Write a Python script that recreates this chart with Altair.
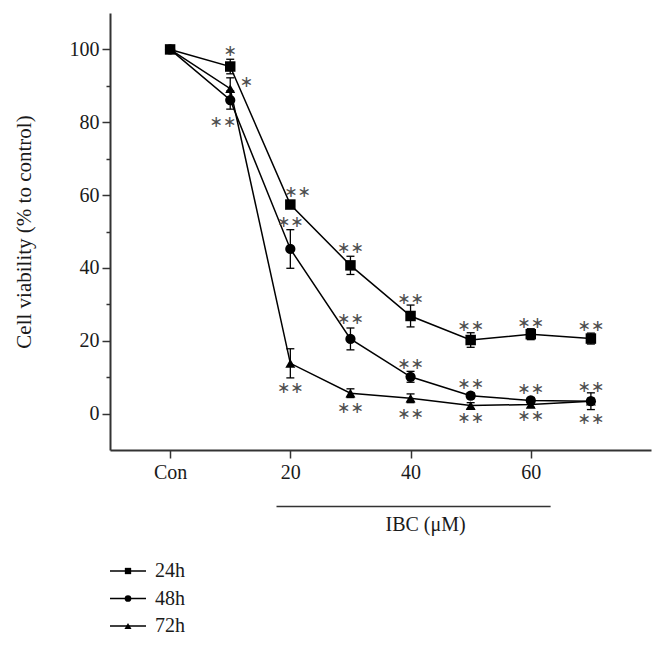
import altair as alt
import pandas as pd

# ---------------- data ----------------
conc = [0, 10, 20, 30, 40, 50, 60, 70]
series_names = ["24h", "48h", "72h"]
v24 = [100, 95.3, 57.4, 40.7, 26.8, 20.2, 21.8, 20.6]
e24 = [0.5, 2.0, 1.0, 2.5, 3.0, 2.0, 1.5, 1.5]
v48 = [100, 86.1, 45.2, 20.5, 10.1, 4.9, 3.6, 3.4]
e48 = [0.5, 2.5, 5.3, 3.0, 1.5, 0.8, 0.8, 0.8]
v72 = [100, 89.2, 13.8, 5.6, 4.2, 2.2, 2.5, 3.4]
e72 = [0.5, 3.0, 4.0, 1.2, 1.2, 0.8, 0.8, 2.3]

x_tick_values = [0, 20, 40, 60]
x_tick_labels = ["Con", "20", "40", "60"]
y_tick_values = [0, 10, 20, 30, 40, 50, 60, 70, 80, 90, 100]

# significance marks (placed in data units)
ann_x = [10, 12.7, 8.8,
         21.2, 20, 20,
         30, 30, 30,
         40, 40, 40,
         50, 50, 50,
         60, 60, 60,
         70, 70, 70]
ann_y = [99.5, 91, 80,
         60.9, 52.7, 7,
         45.5, 26, 1.6,
         31.6, 13.6, 0,
         24, 8.1, -1.2,
         25, 6.8, -0.8,
         24, 7.3, -1.4]
ann_text = ["∗", "∗", "∗∗"] + ["∗∗"] * 18

bracket_x = [17.7, 63.3]
bracket_y = [-25.5]
ibc_label = "IBC (μM)"
ibc_pos = [42.5, -30.5]

# ---------------- tables ----------------
rows = []
for name, vals, errs in zip(series_names, [v24, v48, v72], [e24, e48, e72]):
    for c, v, e in zip(conc, vals, errs):
        rows.append({"conc": c, "value": v, "lo": v - e, "hi": v + e, "series": name})
df = pd.DataFrame(rows)
ann_df = pd.DataFrame({"x": ann_x, "y": ann_y, "t": ann_text})

FONT = "Liberation Serif"
FS = 20
AX = "#333333"
TXT = "#1a1a1a"

label_expr = "{" + ",".join(f"'{v}':'{l}'" for v, l in zip(x_tick_values, x_tick_labels)) + "}[datum.value]"

x_axis = alt.Axis(values=x_tick_values, labelExpr=label_expr, title=None, grid=False,
                  tickSize=8, tickWidth=1.5, tickColor=AX, domainColor=AX, domainWidth=2,
                  labelFont=FONT, labelFontSize=FS, labelColor=TXT, labelPadding=4)
y_axis = alt.Axis(values=y_tick_values, title="Cell viability (% to control)", grid=False,
                  labelExpr="datum.value % 20 == 0 ? datum.label : ''",
                  tickSize={"condition": {"test": "datum.value % 20 == 0", "value": 8}, "value": 4},
                  tickWidth=1.5, tickColor=AX, domainColor=AX, domainWidth=2,
                  labelFont=FONT, labelFontSize=FS, labelColor=TXT, labelPadding=3,
                  titleFont=FONT, titleFontSize=21, titleFontWeight="normal", titleColor=TXT,
                  titlePadding=35)
x_scale = alt.Scale(domain=[-10, 80], nice=False, zero=False)
y_scale = alt.Scale(domain=[-10, 110], nice=False, zero=False)


def X(f):
    return alt.X(f"{f}:Q", scale=x_scale, axis=x_axis)


def Y(f):
    return alt.Y(f"{f}:Q", scale=y_scale, axis=y_axis)


base = alt.Chart(df)
lines = base.mark_line(color="black", strokeWidth=1.5).encode(x=X("conc"), y=Y("value"), detail="series:N")
err = base.mark_rule(color="black", strokeWidth=1.3).encode(x=X("conc"), y=Y("lo"), y2="hi:Q")
cap_lo = base.mark_tick(orient="horizontal", color="black", size=8, thickness=1.3, opacity=1).encode(x=X("conc"), y=Y("lo"))
cap_hi = base.mark_tick(orient="horizontal", color="black", size=8, thickness=1.3, opacity=1).encode(x=X("conc"), y=Y("hi"))
pts = base.mark_point(filled=True, color="black", opacity=1).encode(
    x=X("conc"), y=Y("value"),
    shape=alt.Shape("series:N", scale=alt.Scale(domain=series_names, range=["square", "circle", "triangle-up"]), legend=None),
    size=alt.Size("series:N", scale=alt.Scale(domain=series_names, range=[110, 100, 115]), legend=None),
)
ann = alt.Chart(ann_df).mark_text(font="DejaVu Sans", fontSize=16, color="#4d4d4d", baseline="middle").encode(
    x=X("x"), y=Y("y"), text="t:N")

misc = alt.Chart(pd.DataFrame({"x": [bracket_x[0]], "x2": [bracket_x[1]], "y": bracket_y}))
bracket = misc.mark_rule(color=AX, strokeWidth=1.6).encode(x=X("x"), x2="x2:Q", y=Y("y"))
ibc = alt.Chart(pd.DataFrame({"x": [ibc_pos[0]], "y": [ibc_pos[1]], "t": [ibc_label]})).mark_text(
    font=FONT, fontSize=FS, color=TXT, baseline="middle").encode(x=X("x"), y=Y("y"), text="t:N")

# custom legend (line through marker), below the plot
one = alt.Chart(pd.DataFrame({"k": [0]}))
legend_layers = []
leg_shapes = ["square", "circle", "triangle-up"]
leg_sizes = [40, 45, 50]
for i, (name, shp, sz) in enumerate(zip(series_names, leg_shapes, leg_sizes)):
    yy = 558 + i * 27.5
    legend_layers.append(one.mark_rule(color="black", strokeWidth=1.5).encode(
        x=alt.value(0), x2=alt.value(36), y=alt.value(yy)))
    legend_layers.append(one.mark_point(shape=shp, filled=True, color="black", opacity=1, size=sz).encode(
        x=alt.value(18), y=alt.value(yy)))
    legend_layers.append(one.mark_text(font=FONT, fontSize=FS, color=TXT, align="left", baseline="middle").encode(
        x=alt.value(45), y=alt.value(yy), text=alt.value(name)))

chart = alt.layer(lines, err, cap_lo, cap_hi, pts, ann, bracket, ibc, *legend_layers).properties(
    width=541, height=437,
    autosize=alt.AutoSizeParams(type="none"),
    padding={"left": 102, "top": 5, "right": 6, "bottom": 185},
).configure_view(stroke=None)

chart.save("out.html", embed_options={"renderer": "svg", "actions": False})
